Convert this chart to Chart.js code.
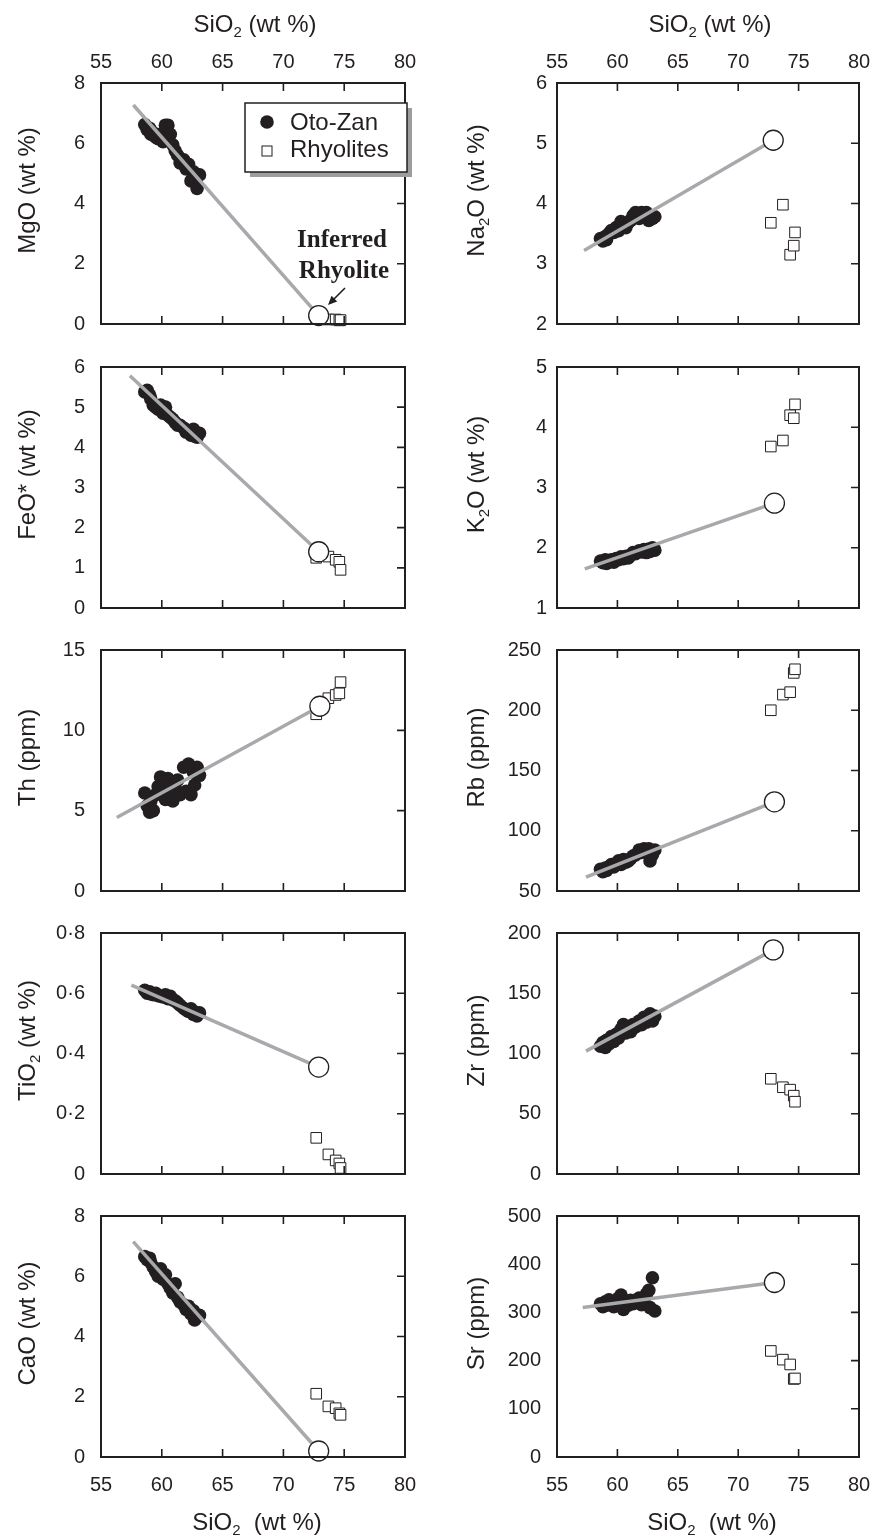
<!DOCTYPE html>
<html><head><meta charset="utf-8">
<script src="https://cdn.jsdelivr.net/npm/chart.js@4.4.1/dist/chart.umd.min.js"></script>
<style>
html,body{margin:0;padding:0;background:#fff;overflow:hidden;}
body{width:877px;height:1538px;position:relative;}
.p{position:absolute;}
canvas{display:block;}
</style></head><body>
<script>
// ---------- DATA ----------
const siTicks = [55, 60, 65, 70, 75, 80];
const siTickLabels = ['55', '60', '65', '70', '75', '80'];

// Oto-Zan samples (SiO2 wt %)
const otoSiO2 = [58.6,58.8,59.0,59.1,59.3,59.5,59.7,59.9,60.1,60.3,60.5,60.7,60.9,61.1,61.3,61.5,61.8,62.0,62.2,62.4,62.6,62.7,62.9,63.1];
const otoMgO  = [6.62,6.45,6.5,6.3,6.35,6.2,6.15,6.3,6.05,6.6,6.6,6.3,5.95,5.75,5.6,5.35,5.45,5.15,5.3,4.75,5.05,4.85,4.5,4.95];
const otoFeO  = [5.38,5.42,5.3,5.2,5.05,5.0,4.95,5.05,4.85,5.0,4.8,4.75,4.7,4.62,4.55,4.55,4.48,4.38,4.4,4.3,4.45,4.28,4.25,4.35];
const otoTh   = [6.1,5.3,4.9,5.6,5.0,6.0,6.5,7.1,6.6,5.7,7.0,6.3,5.6,6.4,6.9,6.0,7.7,6.2,7.9,6.0,7.4,6.6,7.7,7.2];
const otoTiO2 = [0.610,0.600,0.605,0.598,0.595,0.600,0.592,0.590,0.588,0.595,0.582,0.590,0.578,0.575,0.568,0.560,0.550,0.545,0.540,0.548,0.530,0.538,0.525,0.535];
const otoCaO  = [6.65,6.55,6.6,6.45,6.3,6.15,6.0,6.25,5.9,6.05,5.75,5.6,5.45,5.75,5.3,5.15,5.05,4.9,5.0,4.75,4.85,4.55,4.65,4.7];
const otoNa2O = [3.42,3.38,3.45,3.40,3.50,3.55,3.52,3.60,3.55,3.70,3.65,3.60,3.68,3.72,3.80,3.85,3.75,3.85,3.78,3.85,3.72,3.80,3.75,3.78];
const otoK2O  = [1.78,1.75,1.80,1.74,1.78,1.80,1.76,1.82,1.80,1.85,1.82,1.86,1.83,1.88,1.92,1.90,1.95,1.93,1.97,1.92,1.98,1.94,2.00,1.96];
const otoRb   = [68,66,69,67,70,72,70,73,75,72,76,74,75,77,79,80,84,82,85,83,85,75,80,84];
const otoZr   = [106,109,105,111,108,114,110,116,113,120,124,117,121,118,124,122,127,124,130,126,128,133,127,131];
const otoSr   = [318,312,322,315,326,318,312,320,330,336,306,322,315,325,318,322,330,316,326,338,346,310,372,303];

// Rhyolites
const rhySiO2 = [72.7, 73.7, 74.3, 74.6, 74.7];
const rhyMgO  = [0.20, 0.15, 0.15, 0.12, 0.13];
const rhyFeO  = [1.25, 1.28, 1.20, 1.15, 0.95];
const rhyTh   = [11.0, 12.0, 12.2, 12.3, 13.0];
const rhyTiO2 = [0.12, 0.065, 0.045, 0.035, 0.02];
const rhyCaO  = [2.10, 1.68, 1.62, 1.45, 1.40];
const rhyNa2O = [3.68, 3.98, 3.15, 3.30, 3.52];
const rhyK2O  = [3.68, 3.78, 4.20, 4.15, 4.38];
const rhyRb   = [200, 213, 215, 231, 234];
const rhyZr   = [79, 72, 70, 65, 60];
const rhySr   = [220, 202, 192, 162, 163];

// Inferred rhyolite [SiO2, value] and start of the trend line
const inferredMgO  = [72.9, 0.28];   const trendStartMgO  = [57.66, 7.27];
const inferredFeO  = [72.9, 1.40];   const trendStartFeO  = [57.38, 5.78];
const inferredTh   = [73.0, 11.5];   const trendStartTh   = [56.3, 4.57];
const inferredTiO2 = [72.9, 0.355];  const trendStartTiO2 = [57.5, 0.627];
const inferredCaO  = [72.9, 0.20];   const trendStartCaO  = [57.65, 7.15];
const inferredNa2O = [72.9, 5.05];   const trendStartNa2O = [57.24, 3.22];
const inferredK2O  = [73.0, 2.74];   const trendStartK2O  = [57.3, 1.65];
const inferredRb   = [73.0, 124];    const trendStartRb   = [57.4, 61.5];
const inferredZr   = [72.9, 186];    const trendStartZr   = [57.4, 102];
const inferredSr   = [73.0, 362];    const trendStartSr   = [57.13, 310];

// y tick values and labels
const mgoTicks = [0,2,4,6,8];            const mgoLabels = ['0','2','4','6','8'];
const feoTicks = [0,1,2,3,4,5,6];        const feoLabels = ['0','1','2','3','4','5','6'];
const thTicks  = [0,5,10,15];            const thLabels  = ['0','5','10','15'];
const tiTicks  = [0,0.2,0.4,0.6,0.8];    const tiLabels  = ['0','0·2','0·4','0·6','0·8'];
const caoTicks = [0,2,4,6,8];            const caoLabels = ['0','2','4','6','8'];
const naTicks  = [2,3,4,5,6];            const naLabels  = ['2','3','4','5','6'];
const kTicks   = [1,2,3,4,5];            const kLabels   = ['1','2','3','4','5'];
const rbTicks  = [50,100,150,200,250];   const rbLabels  = ['50','100','150','200','250'];
const zrTicks  = [0,50,100,150,200];     const zrLabels  = ['0','50','100','150','200'];
const srTicks  = [0,100,200,300,400,500];const srLabels  = ['0','100','200','300','400','500'];

// ---------- STYLE / LAYOUT ----------
const INK = '#231f20';
const GRAY = '#a7a9ac';
const SANS = '"Liberation Sans", Arial, Helvetica, sans-serif';
const rowTops = [83, 367, 650, 933, 1216];
const PH = 241;

const panels = [
  {col:0,row:0,title:'MgO (wt %)',  oto:otoMgO, rhy:rhyMgO, inf:inferredMgO, start:trendStartMgO, ticks:mgoTicks, labels:mgoLabels, pad:16, legend:true, note:true},
  {col:0,row:1,title:'FeO* (wt %)', oto:otoFeO, rhy:rhyFeO, inf:inferredFeO, start:trendStartFeO, ticks:feoTicks, labels:feoLabels, pad:16},
  {col:0,row:2,title:'Th (ppm)',    oto:otoTh,  rhy:rhyTh,  inf:inferredTh,  start:trendStartTh,  ticks:thTicks,  labels:thLabels,  pad:16},
  {col:0,row:3,title:'TiO_2 (wt %)',oto:otoTiO2,rhy:rhyTiO2,inf:inferredTiO2,start:trendStartTiO2,ticks:tiTicks,  labels:tiLabels,  pad:16},
  {col:0,row:4,title:'CaO (wt %)',  oto:otoCaO, rhy:rhyCaO, inf:inferredCaO, start:trendStartCaO, ticks:caoTicks, labels:caoLabels, pad:16},
  {col:1,row:0,title:'Na_2O (wt %)',oto:otoNa2O,rhy:rhyNa2O,inf:inferredNa2O,start:trendStartNa2O,ticks:naTicks,  labels:naLabels,  pad:10},
  {col:1,row:1,title:'K_2O (wt %)', oto:otoK2O, rhy:rhyK2O, inf:inferredK2O, start:trendStartK2O, ticks:kTicks,   labels:kLabels,   pad:10},
  {col:1,row:2,title:'Rb (ppm)',    oto:otoRb,  rhy:rhyRb,  inf:inferredRb,  start:trendStartRb,  ticks:rbTicks,  labels:rbLabels,  pad:16},
  {col:1,row:3,title:'Zr (ppm)',    oto:otoZr,  rhy:rhyZr,  inf:inferredZr,  start:trendStartZr,  ticks:zrTicks,  labels:zrLabels,  pad:16},
  {col:1,row:4,title:'Sr (ppm)',    oto:otoSr,  rhy:rhySr,  inf:inferredSr,  start:trendStartSr,  ticks:srTicks,  labels:srLabels,  pad:16},
];

function richSegs(s){
  const out=[]; const re=/_(\d)/g; let last=0, m;
  while((m=re.exec(s))){ if(m.index>last) out.push({t:s.slice(last,m.index),sub:false}); out.push({t:m[1],sub:true}); last=re.lastIndex; }
  if(last<s.length) out.push({t:s.slice(last),sub:false});
  return out;
}
function drawRich(ctx, s, x, y, rot){
  const segs=richSegs(s);
  const MF='24px '+SANS, SF='15px '+SANS;
  ctx.save(); ctx.translate(x,y); ctx.rotate(rot);
  ctx.fillStyle=INK; ctx.textBaseline='alphabetic'; ctx.textAlign='left';
  let w=0; segs.forEach(g=>{ctx.font=g.sub?SF:MF; g.w=ctx.measureText(g.t).width; w+=g.w;});
  let cx=-w/2; segs.forEach(g=>{ctx.font=g.sub?SF:MF; ctx.fillText(g.t,cx,g.sub?5:0); cx+=g.w;});
  ctx.restore();
}

const decorPlugin = {
  id:'decor',
  afterDraw(chart){
    const p = chart.options.plugins.decor.panel;
    const {ctx, chartArea:a, scales:{x, y}} = chart;
    ctx.save();
    // inward tick marks (top, bottom, right) and frame
    ctx.strokeStyle=INK; ctx.lineWidth=1.6; ctx.beginPath();
    siTicks.forEach(v=>{ const px=x.getPixelForValue(v); if(px<=a.left+1||px>=a.right-1) return;
      ctx.moveTo(px,a.top); ctx.lineTo(px,a.top+8); ctx.moveTo(px,a.bottom); ctx.lineTo(px,a.bottom-8); });
    p.ticks.forEach(v=>{ const py=y.getPixelForValue(v); if(py<=a.top+1||py>=a.bottom-1) return;
      ctx.moveTo(a.right,py); ctx.lineTo(a.right-8,py); });
    ctx.stroke();
    ctx.lineWidth=2; ctx.strokeRect(a.left,a.top,a.right-a.left,a.bottom-a.top);
    // axis titles
    const cxm=(a.left+a.right)/2, cym=(a.top+a.bottom)/2;
    if(p.row===0) drawRich(ctx,'SiO_2 (wt %)',cxm+2,a.top-51,0);
    if(p.row===4) drawRich(ctx,'SiO_2  (wt %)',cxm+4,a.bottom+73,0);
    const bx = p.col===0 ? a.left-66 : a.left-73;
    drawRich(ctx,p.title,bx,cym-13,-Math.PI/2);
    // legend
    if(p.legend){
      const lx=a.left+144, ly=a.top+20, lw=162, lh=69;
      ctx.fillStyle='#9d9d9d'; ctx.fillRect(lx+5,ly+5,lw,lh);
      ctx.fillStyle='#fff'; ctx.fillRect(lx,ly,lw,lh);
      ctx.lineWidth=1.5; ctx.strokeStyle=INK; ctx.strokeRect(lx,ly,lw,lh);
      ctx.fillStyle=INK; ctx.beginPath(); ctx.arc(lx+22,ly+19,6.8,0,Math.PI*2); ctx.fill();
      ctx.lineWidth=1; ctx.fillStyle='#fff'; ctx.fillRect(lx+17,ly+43,10,10); ctx.strokeRect(lx+17,ly+43,10,10);
      ctx.fillStyle=INK; ctx.font='24px '+SANS; ctx.textAlign='left'; ctx.textBaseline='alphabetic';
      ctx.fillText('Oto-Zan',lx+45,ly+27);
      ctx.fillText('Rhyolites',lx+45,ly+54);
    }
    if(p.note){
      ctx.fillStyle=INK; ctx.font='bold 25px "Liberation Serif", "Times New Roman", serif';
      ctx.textAlign='center'; ctx.textBaseline='alphabetic';
      ctx.fillText('Inferred',a.left+241,a.top+164);
      ctx.fillText('Rhyolite',a.left+243,a.top+195);
      const x0=a.left+244, y0=a.top+205, x1=a.left+227, y1=a.top+222;
      ctx.strokeStyle=INK; ctx.lineWidth=1.6; ctx.beginPath(); ctx.moveTo(x0,y0); ctx.lineTo(x1+4,y1-4); ctx.stroke();
      const ang=Math.atan2(y1-y0,x1-x0), L=9, W=4;
      ctx.beginPath(); ctx.moveTo(x1,y1);
      ctx.lineTo(x1-L*Math.cos(ang)+W*Math.sin(ang), y1-L*Math.sin(ang)-W*Math.cos(ang));
      ctx.lineTo(x1-L*Math.cos(ang)-W*Math.sin(ang), y1-L*Math.sin(ang)+W*Math.cos(ang));
      ctx.closePath(); ctx.fill();
    }
    ctx.restore();
  }
};

function zeroPad(s){ s.paddingTop=0; s.paddingBottom=0; s.paddingLeft=0; s.paddingRight=0; }

panels.forEach(p=>{
  const left = p.col===0?0:440, width = p.col===0?440:437;
  const yW = p.col===0?101:117, rPad = p.col===0?35:18;
  const T = rowTops[p.row];
  let top, height, xH=0, padTop, padBot, xPos='bottom', xDisp=true;
  if(p.row===0){ top=0; height=T+PH+14; xH=T; padTop=0; padBot=14; xPos='top'; }
  else if(p.row===4){ top=T-14; height=1538-top; xH=height-14-PH; padTop=14; padBot=0; xPos='bottom'; }
  else { top=T-14; height=PH+28; padTop=14; padBot=14; xDisp=false; }
  const div=document.createElement('div'); div.className='p';
  div.style.cssText=`left:${left}px;top:${top}px;width:${width}px;height:${height}px`;
  const cv=document.createElement('canvas'); cv.width=width; cv.height=height;
  cv.style.width=width+'px'; cv.style.height=height+'px';
  div.appendChild(cv); document.body.appendChild(div);

  new Chart(cv,{
    type:'scatter',
    data:{datasets:[
      {label:'Inferred Rhyolite', data:[{x:p.inf[0],y:p.inf[1]}], pointStyle:'circle', pointRadius:10, backgroundColor:'#fff', borderColor:INK, borderWidth:1.3, clip:false},
      {label:'trend', data:[{x:p.start[0],y:p.start[1]},{x:p.inf[0],y:p.inf[1]}], showLine:true, borderColor:GRAY, borderWidth:3.5, pointRadius:0, fill:false, tension:0},
      {label:'Rhyolites', data:rhySiO2.map((v,k)=>({x:v,y:p.rhy[k]})), pointStyle:'rect', pointRadius:7.5, backgroundColor:'#fff', borderColor:INK, borderWidth:1, clip:false},
      {label:'Oto-Zan', data:otoSiO2.map((v,k)=>({x:v,y:p.oto[k]})), pointStyle:'circle', pointRadius:6.8, backgroundColor:INK, borderColor:INK, borderWidth:0}
    ]},
    options:{
      responsive:false, animation:false, devicePixelRatio:1,
      layout:{autoPadding:false, padding:{left:0,right:rPad,top:padTop,bottom:padBot}},
      plugins:{legend:{display:false}, tooltip:{enabled:false}, decor:{panel:p}},
      scales:{
        x:{type:'linear', position:xPos, display:xDisp, min:55, max:80,
           afterBuildTicks:s=>{ s.ticks=siTicks.map(v=>({value:v})); },
           afterFit:s=>{ s.height=xH; zeroPad(s); },
           grid:{display:false, drawTicks:false}, border:{display:false},
           ticks:{color:INK, font:{family:SANS,size:20}, padding:(p.row===0?9:16), maxRotation:0, autoSkip:false,
                  callback:(v,i)=>siTickLabels[i]}},
        y:{type:'linear', position:'left', min:p.ticks[0], max:p.ticks[p.ticks.length-1],
           afterBuildTicks:s=>{ s.ticks=p.ticks.map(v=>({value:v})); },
           afterFit:s=>{ s.width=yW; zeroPad(s); },
           grid:{display:false, drawTicks:false}, border:{display:false},
           ticks:{color:INK, font:{family:SANS,size:20}, padding:p.pad, autoSkip:false,
                  callback:(v,i)=>p.labels[i]}}
      }
    },
    plugins:[decorPlugin]
  });
});
</script>
</body></html>
